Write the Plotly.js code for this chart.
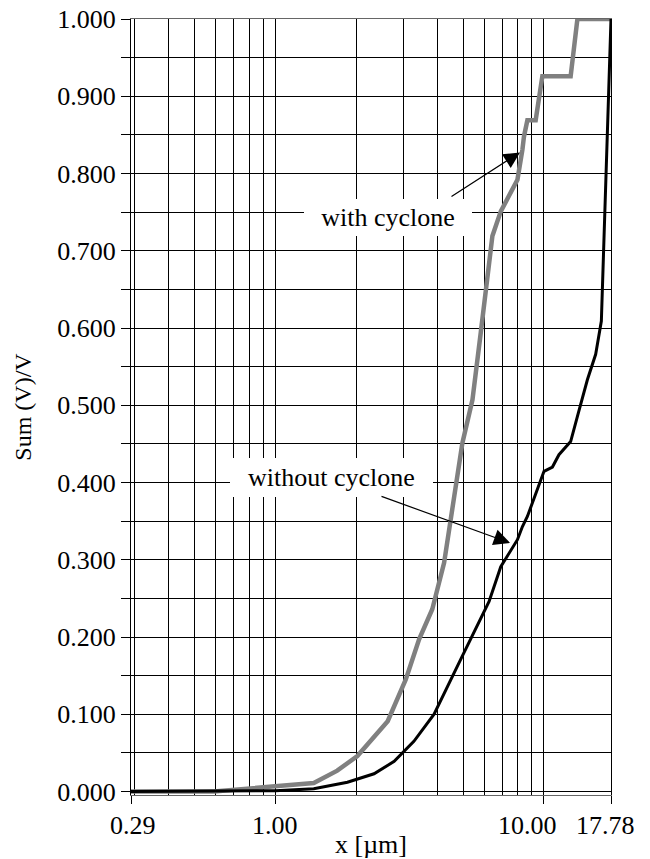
<!DOCTYPE html>
<html>
<head>
<meta charset="utf-8">
<script src="https://cdn.plot.ly/plotly-3.0.1.min.js"></script>
<style>html,body{margin:0;padding:0;background:#fff;}#chart{width:650px;height:859px;}</style>
</head>
<body>
<div id="chart"></div>
<script>
// ---- data ----
const withCycloneX = [0.29, 0.59, 1.39, 1.70, 2.02, 2.62, 3.06, 3.43, 3.84, 4.25, 4.97, 5.42, 5.82, 6.43, 6.91, 7.97, 8.32, 8.43, 8.68, 9.32, 9.87, 12.58, 13.33, 17.78];
const withCycloneY = [0.000, 0.000, 0.011, 0.027, 0.046, 0.091, 0.145, 0.197, 0.236, 0.296, 0.451, 0.507, 0.594, 0.719, 0.751, 0.792, 0.831, 0.848, 0.869, 0.869, 0.926, 0.926, 1.000, 1.000];

const withoutCycloneX = [0.29, 1.00, 1.39, 1.855, 2.33, 2.77, 3.28, 3.90, 4.90, 6.25, 6.91, 7.97, 8.32, 8.68, 10.01, 10.76, 11.38, 12.58, 13.51, 14.52, 15.59, 16.37, 17.78];
const withoutCycloneY = [0.000, 0.001, 0.0035, 0.012, 0.023, 0.039, 0.065, 0.100, 0.171, 0.246, 0.291, 0.326, 0.343, 0.356, 0.4145, 0.420, 0.436, 0.453, 0.493, 0.533, 0.566, 0.609, 1.000];

const xTickVals = [0.29, 1, 10, 17.78];
const xTickText = ["0.29", "1.00", "10.00", "17.78"];
const xGridVals = [0.3, 0.4, 0.5, 0.6, 0.7, 0.8, 0.9, 2, 3, 4, 5, 6, 7, 8, 9];

const yTickVals = [0, 0.05, 0.1, 0.15, 0.2, 0.25, 0.3, 0.35, 0.4, 0.45, 0.5, 0.55, 0.6, 0.65, 0.7, 0.75, 0.8, 0.85, 0.9, 0.95, 1.0];
const yTickText = ["0.000", "", "0.100", "", "0.200", "", "0.300", "", "0.400", "", "0.500", "", "0.600", "", "0.700", "", "0.800", "", "0.900", "", "1.000"];

const seriesNames = ["with cyclone", "without cyclone"];

const FONT = "'Liberation Serif', 'Times New Roman', serif";

// horizontal nudges of the x tick labels (the original places the right-hand labels left of their ticks)
const xLabelShift = [2, 0, -16, -6];

const traces = [
  {
    x: withCycloneX, y: withCycloneY, name: seriesNames[0],
    type: "scatter", mode: "lines",
    line: {color: "#808080", width: 4.5}
  },
  {
    x: withoutCycloneX, y: withoutCycloneY, name: seriesNames[1],
    type: "scatter", mode: "lines",
    line: {color: "#000000", width: 3}
  }
];

const tickLabelAnnotations = xTickVals.map((v, i) => ({
  xref: "x", yref: "paper", x: Math.log10(v), y: 0,
  xanchor: "center", yanchor: "middle",
  xshift: xLabelShift[i], yshift: -30,
  text: xTickText[i], showarrow: false,
  font: {family: FONT, size: 26, color: "#000"}
}));

const layout = {
  width: 650, height: 859,
  margin: {l: 131, r: 39, t: 19, b: 64},
  paper_bgcolor: "#ffffff", plot_bgcolor: "#ffffff",
  showlegend: false,
  font: {family: FONT, size: 26, color: "#000"},
  xaxis: {
    type: "log",
    range: [Math.log10(0.29), Math.log10(17.78)],
    tickmode: "array", tickvals: xTickVals, ticktext: xTickText,
    showticklabels: false,
    ticks: "outside", ticklen: 8, tickwidth: 1, tickcolor: "#000",
    showgrid: true, gridcolor: "#000", gridwidth: 1,
    minor: {tickmode: "array", tickvals: xGridVals, showgrid: true, gridcolor: "#000", gridwidth: 1, ticks: ""},
    showline: true, linecolor: "#666", linewidth: 1, mirror: true,
    zeroline: false,
    title: {text: "x [µm]", font: {family: FONT, size: 26, color: "#000"}, standoff: 31}
  },
  yaxis: {
    range: [-0.0045, 1.0],
    tickmode: "array", tickvals: yTickVals, ticktext: yTickText,
    ticks: "outside", ticklen: 9, tickwidth: 1, tickcolor: "#000",
    showgrid: true, gridcolor: "#000", gridwidth: 1,
    showline: true, linecolor: "#000", linewidth: 1, mirror: true,
    zeroline: false,
    tickfont: {family: FONT, size: 26, color: "#000"},
    title: {text: "Sum (V)/V", font: {family: FONT, size: 24, color: "#000"}, standoff: 18}
  },
  annotations: tickLabelAnnotations.concat([
    {
      xref: "paper", yref: "paper", x: 0.5354, y: 0.7436,
      xanchor: "center", yanchor: "middle",
      text: seriesNames[0], showarrow: false,
      bgcolor: "#ffffff", borderpad: 0, borderwidth: 0,
      width: 168, height: 37,
      font: {family: FONT, size: 26, color: "#000"}
    },
    {
      xref: "paper", yref: "paper", x: 0.4177, y: 0.4097,
      xanchor: "center", yanchor: "middle",
      text: seriesNames[1], showarrow: false,
      bgcolor: "#ffffff", borderpad: 0, borderwidth: 0,
      width: 203, height: 39,
      font: {family: FONT, size: 26, color: "#000"}
    },
    {
      xref: "paper", yref: "paper", x: 0.8104, y: 0.8281,
      text: "", showarrow: true, axref: "pixel", ayref: "pixel",
      ax: -70, ay: 45, arrowhead: 2, arrowsize: 2.7, arrowwidth: 1.2,
      arrowcolor: "#000", standoff: 0, startstandoff: 0
    },
    {
      xref: "paper", yref: "paper", x: 0.7896, y: 0.3249,
      text: "", showarrow: true, axref: "pixel", ayref: "pixel",
      ax: -130, ay: -47, arrowhead: 2, arrowsize: 2.7, arrowwidth: 1.2,
      arrowcolor: "#000", standoff: 0, startstandoff: 0
    }
  ])
};

Plotly.newPlot("chart", traces, layout, {displayModeBar: false, staticPlot: true});
</script>
</body>
</html>
